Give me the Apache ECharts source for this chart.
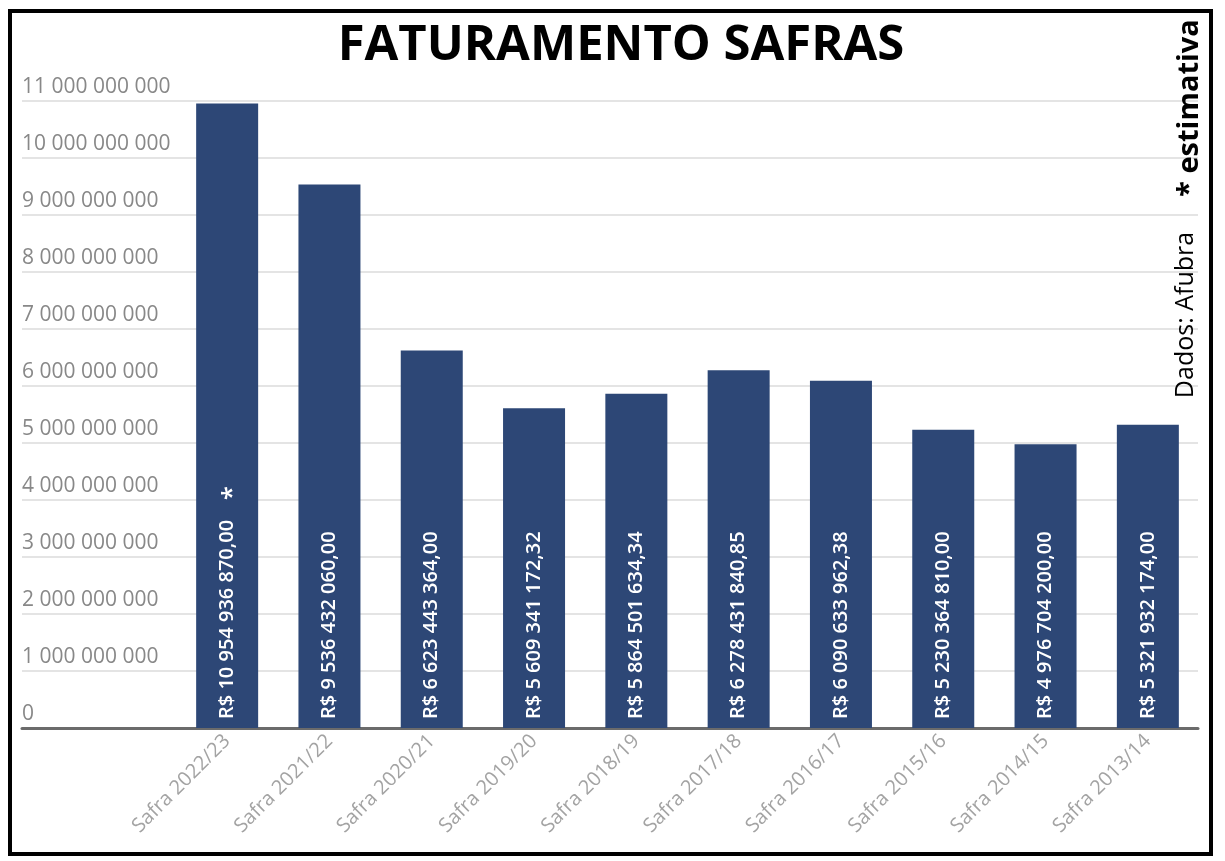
<!DOCTYPE html>
<html>
<head>
<meta charset="utf-8">
<title>Faturamento Safras</title>
<script src="https://cdn.jsdelivr.net/npm/echarts@6/dist/echarts.min.js"></script>
<style>
  html, body { margin: 0; padding: 0; background: #fff; }
  #chart { width: 1225px; height: 861px; }
</style>
</head>
<body>
<div id="chart"></div>
<script>
// dados (Afubra)
var safras = ['Safra 2022/23', 'Safra 2021/22', 'Safra 2020/21', 'Safra 2019/20', 'Safra 2018/19',
              'Safra 2017/18', 'Safra 2016/17', 'Safra 2015/16', 'Safra 2014/15', 'Safra 2013/14'];
var faturamento = [10954936870.00, 9536432060.00, 6623443364.00, 5609341172.32, 5864501634.34,
                   6278431840.85, 6090633962.38, 5230364810.00, 4976704200.00, 5321932174.00];
var estimativa = [true, false, false, false, false, false, false, false, false, false];
var yMin = 0, yMax = 11000000000, yStep = 1000000000;

function milhar(n) {
    return String(n).replace(/\B(?=(\d{3})+(?!\d))/g, ' ');
}
function reais(v) {
    var partes = v.toFixed(2).split('.');
    return 'R$ ' + milhar(partes[0]) + ',' + partes[1];
}

var chart = echarts.init(document.getElementById('chart'));

var option = {
    backgroundColor: '#fff',
    animation: false,
    title: {
        text: 'FATURAMENTO SAFRAS',
        left: 621,
        textAlign: 'center',
        top: 22,
        padding: 0,
        textStyle: {
            fontFamily: 'Open Sans',
            fontWeight: 'bold',
            fontSize: 49,
            color: '#000'
        }
    },
    grid: [
        // fundo: linhas de grade e rotulos do eixo y
        { left: 22, right: 27, top: 101, bottom: 133 },
        // barras
        { left: 176, right: 26, top: 101, bottom: 133 }
    ],
    xAxis: [
        {
            gridIndex: 0,
            type: 'category',
            data: safras,
            axisLine: { lineStyle: { color: '#6b6b6b', width: 3 } },
            axisTick: { show: false },
            axisLabel: { show: false }
        },
        {
            gridIndex: 1,
            type: 'category',
            data: safras,
            axisLine: { show: false },
            axisTick: { show: false },
            axisLabel: {
                rotate: 45,
                margin: 10,
                color: '#a3a3a3',
                fontFamily: 'Open Sans',
                fontSize: 20
            }
        }
    ],
    yAxis: [
        {
            gridIndex: 0,
            type: 'value',
            min: yMin,
            max: yMax,
            interval: yStep,
            axisLine: { show: false },
            axisTick: { show: false },
            splitLine: { lineStyle: { color: '#e4e4e4', width: 2 } },
            axisLabel: {
                inside: true,
                margin: 0,
                verticalAlign: 'bottom',
                padding: [0, 0, 3, 0],
                color: '#888',
                fontFamily: 'Open Sans',
                fontWeight: 500,
                fontSize: 21,
                formatter: function (v) { return milhar(v); }
            }
        },
        {
            gridIndex: 1,
            type: 'value',
            min: yMin,
            max: yMax,
            interval: yStep,
            show: false
        }
    ],
    series: [
        {
            type: 'bar',
            xAxisIndex: 1,
            yAxisIndex: 1,
            data: faturamento,
            barWidth: 62,
            itemStyle: { color: '#2d4776' },
            label: {
                show: true,
                position: 'insideBottom',
                rotate: 90,
                align: 'left',
                verticalAlign: 'middle',
                distance: 9,
                color: '#fff',
                fontFamily: 'Open Sans',
                fontWeight: 600,
                fontSize: 20,
                formatter: function (p) {
                    return reais(p.value) + (estimativa[p.dataIndex] ? '   {ast|*}' : '');
                },
                rich: {
                    ast: {
                        color: '#fff',
                        fontFamily: 'Open Sans',
                        fontSize: 26,
                        padding: [10, 0, 0, 4]
                    }
                }
            }
        }
    ],
    graphic: [
        {
            type: 'rect',
            shape: { x: 10, y: 11, width: 1201, height: 843 },
            style: { fill: 'none', stroke: '#000', lineWidth: 4 },
            z: 10
        },
        {
            type: 'text',
            x: 1190,
            y: 108,
            rotation: Math.PI / 2,
            style: {
                text: '* estimativa',
                x: 0, y: 0,
                align: 'center',
                verticalAlign: 'middle',
                fontFamily: 'Open Sans',
                fontWeight: 'bold',
                fontSize: 29,
                fill: '#000'
            },
            z: 10
        },
        {
            type: 'text',
            x: 1186,
            y: 315,
            rotation: Math.PI / 2,
            style: {
                text: 'Dados: Afubra',
                x: 0, y: 0,
                align: 'center',
                verticalAlign: 'middle',
                fontFamily: 'Open Sans',
                fontSize: 25,
                fill: '#000'
            },
            z: 10
        }
    ]
};

chart.setOption(option);
</script>
</body>
</html>
